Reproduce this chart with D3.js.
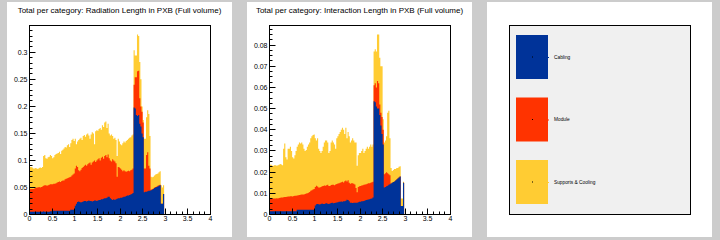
<!DOCTYPE html>
<html><head><meta charset="utf-8">
<script src="https://cdn.jsdelivr.net/npm/d3@7"></script>
<style>html,body{margin:0;padding:0;background:#cccccc;} svg{display:block;}</style>
</head><body>
<svg id="c" width="720" height="240"></svg>
<script>
const binWidth = 0.025;
const categories = ["Cabling", "Module", "Supports & Cooling"];
const colors = ["#003399", "#ff3300", "#ffcc33"];
const xTickValues = [0, 0.5, 1, 1.5, 2, 2.5, 3, 3.5, 4];
const xTickLabels = ["0", "0.5", "1", "1.5", "2", "2.5", "3", "3.5", "4"];
const radTitle = "Total per category: Radiation Length in PXB (Full volume)";
const intTitle = "Total per category: Interaction Length in PXB (Full volume)";
const radYTickValues = [0, 0.05, 0.1, 0.15, 0.2, 0.25, 0.3];
const radYTickLabels = ["0", "0.05", "0.1", "0.15", "0.2", "0.25", "0.3"];
const intYTickValues = [0, 0.01, 0.02, 0.03, 0.04, 0.05, 0.06, 0.07, 0.08];
const intYTickLabels = ["0", "0.01", "0.02", "0.03", "0.04", "0.05", "0.06", "0.07", "0.08"];

const radCabling = [0.005,0.005,0.005,0.005,0.005,0.005,0.005,0.005,0.005,0.005,0.005,0.005,0.006,0.005,0.005,0.005,0.005,0.005,0.006,0.006,
0.007,0.007,0.007,0.007,0.007,0.007,0.007,0.007,0.007,0.007,0.007,0.007,0.007,0.007,0.007,0.007,
0.009,0.009,0.009,0.009,
0.016,0.020,0.023,0.024,0.023,0.022,0.023,0.024,
0.025,0.025,0.024,0.025,0.026,0.025,0.025,0.024,0.025,0.026,0.026,0.025,
0.026,0.027,0.027,0.028,0.028,0.029,0.030,0.030,0.031,0.033,
0.033,0.030,0.028,0.027,0.028,0.027,0.028,0.029,0.030,0.030,
0.031,0.031,0.032,0.033,0.033,0.034,0.035,0.035,0.036,0.037,0.038,0.040,
0.198,0.196,0.184,0.182,0.184,0.168,0.163,0.150,0.143,
0.041,0.042,0.042,0.043,0.044,0.044,0.045,
0.046,0.047,0.049,0.050,0.051,0.052,0.053,0.054,
0.020,0.020,0.038,0];
const radModule = [0.042,0.042,0.042,0.042,
0.043,0.044,0.045,0.045,0.046,0.045,0.046,0.047,
0.047,0.049,0.049,0.048,0.049,0.050,0.050,0.050,
0.049,0.050,0.050,0.051,0.052,0.053,0.054,0.053,
0.055,0.056,0.056,0.058,0.059,0.060,0.061,0.062,
0.061,0.063,0.065,0.067,
0.069,0.070,0.065,0.058,
0.057,0.061,0.063,0.064,0.065,0.067,0.066,0.068,
0.069,0.071,0.067,0.072,0.073,0.074,0.071,0.075,
0.076,0.077,0.073,0.077,0.079,0.074,0.078,0.080,0.075,0.078,
0.071,0.070,0.070,0.075,0.072,0.071,0.067,0.041,0.058,0.057,
0.054,0.052,0.048,0.049,0.047,0.045,0.045,0.046,0.044,0.045,0.045,0.045,
0.042,0.058,0.070,0.083,0.082,0.047,0.037,0.040,0.027,
0.044,0.043,0.068,0.072,0.046,0.041,
0.001,0.001,0.001,0.001,0.001,0.001,0.001,0.001,0.001,
0,0,0,0];
const radSupports = [0.041,0.041,0.040,0.038,
0.037,0.037,0.035,0.034,0.035,0.037,0.035,0.036,
0.055,0.056,0.050,0.050,0.052,0.052,0.054,0.052,
0.048,0.049,0.053,0.054,0.054,0.054,0.055,0.052,
0.056,0.057,0.059,0.060,0.058,0.061,0.062,0.056,
0.062,0.066,0.066,0.060,
0.055,0.040,0.047,0.056,0.060,0.059,0.052,0.057,
0.057,0.052,0.058,0.057,0.051,0.044,0.056,0.056,
0.052,0.030,0.057,0.056,0.053,0.054,0.060,0.052,
0.058,0.059,0.062,0.062,0.054,0.057,0.046,0.046,
0.050,0.043,0.040,0.044,0.043,0.038,0.052,0.048,
0.045,0.045,0.052,0.053,0.053,0.057,0.058,0.059,0.062,0.061,0.063,0.063,
0.064,0.040,0.040,0.068,0.064,0.067,0.050,0.010,0.005,
0.055,0.055,0.070,0.078,0.096,0.060,
0.024,0.022,0.022,0.022,0.023,0.023,0.023,0.024,0.025,
0.034,0.030,0.016,0];

const intCabling = [0.0015,0.0015,0.0015,0.0015,0.0015,0.0015,0.0015,0.0015,0.0015,0.0015,0.0015,0.0015,
0.0015,0.0015,0.0015,0.0015,0.0015,0.0015,0.0015,0.0015,0.0015,0.0015,0.0015,0.0015,
0.0022,0.0022,0.0022,0.0022,0.0022,0.0022,0.0022,0.0022,0.0022,0.0022,0.0022,0.0022,0.0022,0.0022,0.0022,0.0022,
0.0043,0.0048,
0.0050,0.0048,0.0047,0.0050,0.0052,0.0050,0.0050,0.0052,0.0053,0.0051,0.0050,0.0052,0.0054,0.0055,0.0053,0.0054,0.0056,0.0057,
0.0058,0.0060,0.0060,0.0061,0.0060,0.0062,0.0063,0.0065,0.0070,0.0068,0.0062,0.0056,
0.0055,0.0054,0.0055,0.0056,0.0055,0.0056,0.0058,0.0060,
0.0060,0.0062,0.0063,0.0064,0.0066,0.0068,0.0070,0.0071,0.0072,0.0074,0.0076,0.0080,
0.0535,0.0530,0.0510,0.0500,0.0500,0.0470,0.0420,0.0380,0.0330,
0.0128,0.0130,0.0133,0.0136,0.0140,0.0143,0.0146,
0.0150,0.0153,0.0156,0.0160,0.0165,0.0170,0.0175,0.0180,
0.0040,0.0040,0.0150,0];
const intModule = [0.0059,0.0060,0.0060,0.0061,0.0060,0.0061,0.0062,0.0061,0.0063,0.0064,0.0065,0.0065,
0.0067,0.0068,0.0068,0.0069,0.0070,0.0070,0.0071,0.0071,0.0070,0.0072,0.0073,0.0073,
0.0068,0.0069,0.0070,0.0071,0.0072,0.0073,0.0073,0.0075,0.0077,0.0078,0.0081,0.0084,
0.0090,0.0093,0.0096,0.0098,
0.0087,0.0088,0.0082,0.0080,0.0080,0.0080,0.0081,0.0085,
0.0087,0.0084,0.0085,0.0089,0.0085,0.0082,0.0085,0.0086,0.0087,0.0084,0.0086,0.0087,
0.0088,0.0088,0.0090,0.0091,0.0095,0.0089,0.0094,0.0095,0.0086,0.0094,0.0088,0.0089,
0.0092,0.0094,0.0090,0.0086,0.0070,0.0049,0.0072,0.0073,
0.0075,0.0075,0.0075,0.0076,0.0076,0.0075,0.0075,0.0076,0.0076,0.0076,0.0076,0.0075,
0.0075,0.0090,0.0090,0.0130,0.0120,0.0050,0.0060,0.0080,0.0070,
0.0062,0.0065,0.0067,0.0059,0.0050,0.0042,
0,0,0,0,0,0,0,0,0,0,0,0,0];
const intSupports = [0.0161,0.0160,0.0155,0.0154,0.0157,0.0156,0.0153,0.0156,0.0157,0.0159,0.0156,0.0152,
0.0228,0.0252,0.0187,0.0176,0.0225,0.0225,0.0234,0.0214,
0.0185,0.0178,0.0192,0.0212,0.0230,0.0239,0.0248,0.0242,
0.0246,0.0235,0.0215,0.0203,0.0206,0.0220,0.0227,0.0234,
0.0248,0.0255,0.0257,0.0258,
0.0230,0.0214,0.0228,0.0182,0.0173,0.0160,0.0167,0.0185,
0.0203,0.0214,0.0212,0.0200,0.0155,0.0166,0.0201,0.0209,
0.0200,0.0192,0.0168,0.0216,0.0224,0.0232,0.0240,0.0248,
0.0255,0.0249,0.0223,0.0250,0.0204,0.0228,0.0220,0.0195,
0.0203,0.0212,0.0205,0.0198,0.0215,0.0125,0.0150,0.0157,
0.0155,0.0163,0.0172,0.0150,0.0158,0.0167,0.0175,0.0163,0.0172,0.0180,0.0168,0.0175,
0.0160,0.0160,0.0170,0.0220,0.0230,0.0220,0.0220,0.0240,0.0050,
0.0150,0.0155,0.0170,0.0285,0.0300,0.0175,
0.0074,0.0055,0.0057,0.0059,0.0055,0.0055,0.0050,0.0050,0.0048,
0.0035,0.0035,0.0005,0];

const FONT = "'Liberation Sans', Arial, Helvetica, sans-serif";
const svg = d3.select("#c");

function snapTicks(sel, scale, horizontal) {
  sel.selectAll(".tick").attr("transform", d => {
    const p = Math.round(scale(d) - 0.5) + 0.5;
    return horizontal ? `translate(${p},0)` : `translate(0,${p})`;
  });
}

function drawHist(px, title, cab, mod, sup, yTickValues, yTickLabels, yMinorStep) {
  const g = svg.append("g").attr("transform", `translate(${px},0)`);
  g.append("rect").attr("x", 7).attr("y", 2).attr("width", 225).attr("height", 235).attr("fill", "#ffffff");

  const rows = cab.map((c, i) => ({ cab: c, mod: mod[i], sup: sup[i] }));
  const stack = d3.stack().keys(["cab", "mod", "sup"])(rows);
  const maxTotal = d3.max(stack[2], d => d[1]);

  const x = d3.scaleLinear().domain([0, 4]).range([29.5, 210.5]);
  const y = d3.scaleLinear().domain([0, maxTotal * 1.05]).range([214.5, 25.5]);

  const area = d3.area().x(p => x(p.x)).y0(y(0)).y1(p => y(p.v));
  for (let k = 2; k >= 0; k--) {
    const pts = [];
    stack[k].forEach((d, i) => {
      pts.push({ x: i * binWidth, v: d[1] });
      pts.push({ x: (i + 1) * binWidth, v: d[1] });
    });
    g.append("path").attr("d", area(pts)).attr("fill", colors[k]);
  }

  // frame
  g.append("rect").attr("x", 29.5).attr("y", 25.5).attr("width", 181).attr("height", 189)
    .attr("fill", "none").attr("stroke", "#000").attr("stroke-width", 1);

  // x axis
  const xMinor = d3.axisBottom(x).tickValues(d3.range(0, 4.0001, 0.125)).tickFormat("").tickSize(-3).offset(0);
  const gxm = g.append("g").attr("transform", "translate(0,214.5)").call(xMinor);
  gxm.select(".domain").remove();
  snapTicks(gxm, x, true);
  const xAxis = d3.axisBottom(x).tickValues(xTickValues).tickFormat((d, i) => xTickLabels[i])
    .tickSize(-6).tickPadding(2).offset(0);
  const gx = g.append("g").attr("transform", "translate(0,214.5)").call(xAxis);
  gx.select(".domain").remove();
  snapTicks(gx, x, true);
  gx.attr("font-family", FONT).attr("font-size", 7);

  // y axis
  const yMax = y.domain()[1];
  const yMinor = d3.axisLeft(y).tickValues(d3.range(0, yMax, yMinorStep)).tickFormat("").tickSize(-3).offset(0);
  const gym = g.append("g").attr("transform", "translate(29.5,0)").call(yMinor);
  gym.select(".domain").remove();
  snapTicks(gym, y, false);
  const yAxis = d3.axisLeft(y).tickValues(yTickValues).tickFormat((d, i) => yTickLabels[i])
    .tickSize(-6).tickPadding(2).offset(0);
  const gy = g.append("g").attr("transform", "translate(29.5,0)").call(yAxis);
  gy.select(".domain").remove();
  snapTicks(gy, y, false);
  gy.attr("font-family", FONT).attr("font-size", 7);

  g.selectAll(".tick line").attr("stroke", "#000");
  g.selectAll(".tick text").attr("fill", "#000");

  g.append("text").attr("x", 119.5).attr("y", 13).attr("text-anchor", "middle")
    .attr("font-family", FONT).attr("font-size", 8).attr("fill", "#000").text(title);
}

drawHist(0, radTitle, radCabling, radModule, radSupports, radYTickValues, radYTickLabels, 0.01);
drawHist(240, intTitle, intCabling, intModule, intSupports, intYTickValues, intYTickLabels, 0.0025);

// legend panel
const lg = svg.append("g").attr("transform", "translate(480,0)");
lg.append("rect").attr("x", 7).attr("y", 2).attr("width", 225).attr("height", 235).attr("fill", "#ffffff");
lg.append("rect").attr("x", 29.5).attr("y", 25.5).attr("width", 181).attr("height", 189)
  .attr("fill", "#f0f0f0").attr("stroke", "#000").attr("stroke-width", 1);
const ly = d3.scalePoint().domain(categories).range([57, 182]);
categories.forEach((c, i) => {
  const cy = ly(c);
  lg.append("rect").attr("x", 36).attr("y", cy - 22).attr("width", 32).attr("height", 44).attr("fill", colors[i]);
  lg.append("rect").attr("x", 52).attr("y", cy - 0.5).attr("width", 1).attr("height", 1).attr("fill", "#000");
  lg.append("line").attr("x1", 66).attr("x2", 69).attr("y1", cy + 0.5).attr("y2", cy + 0.5)
    .attr("stroke", colors[i]).attr("stroke-width", 1);
  lg.append("text").attr("x", 74).attr("y", cy).attr("dy", "0.35em")
    .attr("font-family", FONT).attr("font-size", 4.8).attr("fill", "#000").text(c);
});
</script>
</body></html>
